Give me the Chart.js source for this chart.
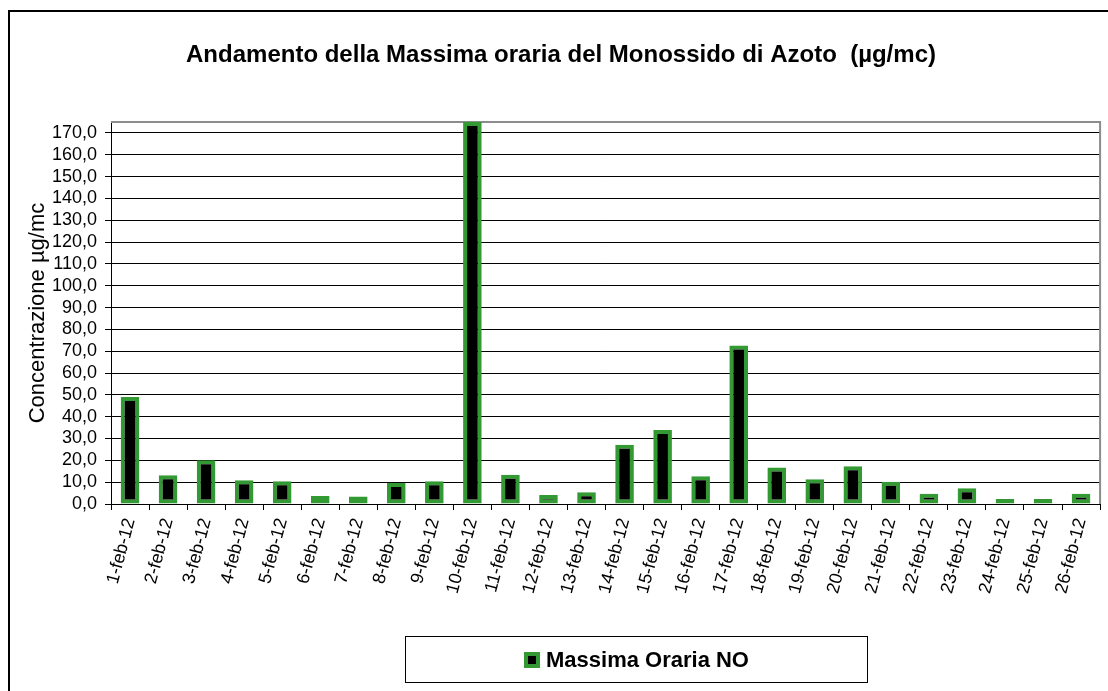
<!DOCTYPE html>
<html>
<head>
<meta charset="utf-8">
<script src="https://cdn.jsdelivr.net/npm/chart.js@4/dist/chart.umd.min.js"></script>
<style>
  html, body { margin: 0; padding: 0; background: #fff; }
  #wrap { position: relative; width: 1108px; height: 691px; overflow: hidden; }
  #frame { position: absolute; left: 8px; top: 10px; width: 1200px; height: 800px;
           border-left: 2px solid #000; border-top: 2px solid #000; pointer-events: none; }
  #legend { position: absolute; left: 405px; top: 636px; width: 461px; height: 45px;
            border: 1px solid #000; display: flex; align-items: center; justify-content: center;
            font: bold 22px "Liberation Sans", Arial, sans-serif; color: #000; }
  #legend .sw { width: 8px; height: 8px; background: #000; border: 4px solid #339933; margin-right: 6px; }
  canvas { position: absolute; left: 0; top: 0; }
</style>
</head>
<body>
<div id="wrap">
  <canvas id="chart" width="1108" height="691"></canvas>
  <div id="frame"></div>
  <div id="legend"><span class="sw"></span><span id="legendText"></span></div>
</div>
<script>
const days = ['1-feb-12', '2-feb-12', '3-feb-12', '4-feb-12', '5-feb-12', '6-feb-12', '7-feb-12',
  '8-feb-12', '9-feb-12', '10-feb-12', '11-feb-12', '12-feb-12', '13-feb-12', '14-feb-12',
  '15-feb-12', '16-feb-12', '17-feb-12', '18-feb-12', '19-feb-12', '20-feb-12', '21-feb-12',
  '22-feb-12', '23-feb-12', '24-feb-12', '25-feb-12', '26-feb-12'];
const massimaNO = [49, 13.2, 20, 10.9, 10.4, 3.7, 3.4, 9.6, 10.4, 175, 13.4, 4.1, 5.4, 27.1,
  33.9, 12.7, 72.6, 16.7, 11.3, 17.3, 10.2, 4.7, 7.2, 2.3, 2.3, 4.7];
const seriesName = 'Massima Oraria NO';
const yTicks = [0, 10, 20, 30, 40, 50, 60, 70, 80, 90, 100, 110, 120, 130, 140, 150, 160, 170];
const yMax = 175;

const FONT = '"Liberation Sans", Arial, sans-serif';
const GREEN = '#339933';

// grey frame on top and right of the plot area
const plotFrame = {
  id: 'plotFrame',
  beforeDatasetsDraw(chart) {
    const {ctx, chartArea: a} = chart;
    ctx.save();
    ctx.strokeStyle = '#8c8c8c';
    ctx.lineWidth = 2;
    ctx.beginPath();
    ctx.moveTo(a.left, a.top);
    ctx.lineTo(a.right, a.top);
    ctx.lineTo(a.right, a.bottom);
    ctx.stroke();
    ctx.restore();
  }
};

const chart = new Chart(document.getElementById('chart'), {
  type: 'bar',
  data: {
    labels: days,
    datasets: [{
      label: seriesName,
      data: massimaNO,
      backgroundColor: '#000',
      borderColor: GREEN,
      borderWidth: 4,
      borderSkipped: false,
      barPercentage: 0.49,
      categoryPercentage: 1
    }]
  },
  options: {
    responsive: false,
    animation: false,
    layout: { padding: { left: 18, right: 4, top: 0, bottom: 0 } },
    plugins: {
      legend: { display: false },
      tooltip: { enabled: false },
      title: {
        display: true,
        text: 'Andamento della Massima oraria del Monossido di Azoto  (µg/mc)',
        color: '#000',
        font: { family: FONT, size: 24, weight: 'bold' },
        padding: { top: 41, bottom: 52.2 }
      }
    },
    scales: {
      x: {
        offset: true,
        grid: { display: true, drawOnChartArea: false, drawTicks: true, tickLength: 6, color: '#000', offset: true },
        border: { display: true, color: '#000', width: 1 },
        ticks: {
          color: '#000',
          font: { family: FONT, size: 18 },
          maxRotation: 75,
          minRotation: 75,
          autoSkip: false,
          padding: 6
        },
        afterFit(scale) { scale.height = 187; }
      },
      y: {
        min: 0,
        max: yMax,
        grid: { color: '#000', lineWidth: 1, drawTicks: true, tickLength: 6, tickColor: '#000' },
        border: { display: true, color: '#000', width: 1 },
        ticks: {
          autoSkip: false,
          color: '#000',
          padding: 8,
          font: { family: FONT, size: 18 },
          callback: v => v.toFixed(1).replace('.', ',')
        },
        afterBuildTicks(scale) {
          scale.ticks = yTicks.map(v => ({ value: v }));
        },
        title: {
          display: true,
          text: 'Concentrazione µg/mc',
          color: '#000',
          font: { family: FONT, size: 22 },
          padding: { top: 7, bottom: 0 }
        },
        afterFit(scale) { scale.width = 93; }
      }
    }
  },
  plugins: [plotFrame]
});

document.getElementById('legendText').textContent = chart.data.datasets[0].label;
</script>
</body>
</html>
